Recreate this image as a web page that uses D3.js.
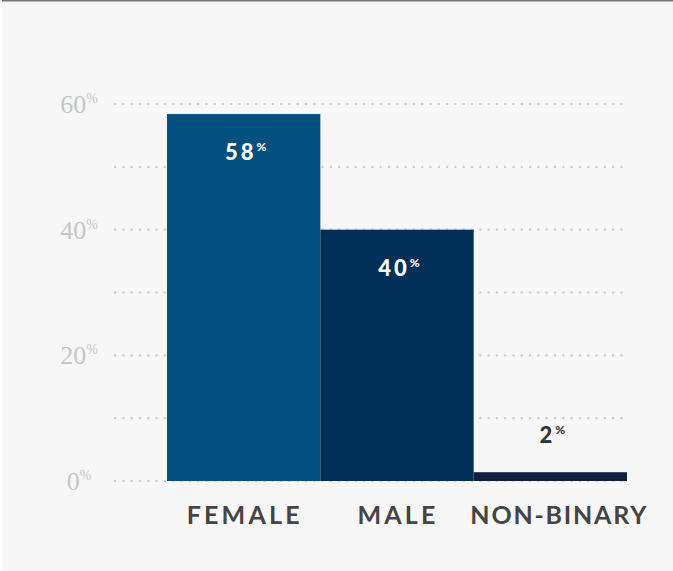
<!DOCTYPE html>
<html>
<head>
<meta charset="utf-8">
<script src="https://cdn.jsdelivr.net/npm/d3@7"></script>
<style>
  html, body { margin: 0; padding: 0; background: #ffffff; }
  svg { display: block; }
</style>
</head>
<body>
<svg id="chart" width="673" height="571"></svg>
<script>
// ---- data ----
const categories = ["FEMALE", "MALE", "NON-BINARY"];
const values = [58.4, 40, 1.4];
const valueLabels = ["58", "40", "2"];
const barColors = ["#02507f", "#002f57", "#121f43"];
const labelColors = ["#ffffff", "#ffffff", "#333333"];
const yTicks = [0, 20, 40, 60];
const gridTicks = [0, 10, 20, 30, 40, 50, 60];

const svg = d3.select("#chart");
const W = 673, H = 571;

// background panel
svg.append("rect").attr("x", 2).attr("y", 0).attr("width", W - 2).attr("height", H).attr("fill", "#f7f7f7");
svg.append("rect").attr("x", 2).attr("y", 0).attr("width", W - 2).attr("height", 1.5).attr("fill", "#777777");

const y = d3.scaleLinear().domain([0, 60]).range([481, 104]);
const x = d3.scaleBand().domain(categories).range([167, 627]).padding(0);

// dotted gridlines
svg.append("g").selectAll("line").data(gridTicks).join("line")
  .attr("x1", 114).attr("x2", 628)
  .attr("y1", d => y(d)).attr("y2", d => y(d))
  .attr("stroke", "#cfcfcf").attr("stroke-width", 2.2)
  .attr("stroke-dasharray", "2.2,6.1");

// y tick labels
const yl = svg.append("g").selectAll("text").data(yTicks).join("text")
  .attr("x", 79).attr("y", d => y(d) + 9)
  .attr("text-anchor", "middle")
  .attr("font-family", "'Liberation Serif', serif")
  .attr("font-size", 26)
  .attr("fill", "#c6c6c6");
yl.append("tspan").text(d => d);
yl.append("tspan").text("%").attr("font-size", 14).attr("dy", -10);

// bars
svg.append("g").selectAll("rect").data(categories).join("rect")
  .attr("x", d => x(d))
  .attr("width", x.bandwidth())
  .attr("y", (d, i) => y(values[i]))
  .attr("height", (d, i) => y(0) - y(values[i]))
  .attr("fill", (d, i) => barColors[i]);

// value labels
const vl = svg.append("g").selectAll("text").data(categories).join("text")
  .attr("x", d => x(d) + x.bandwidth() / 2 + 2)
  .attr("y", (d, i) => i < 2 ? y(values[i]) + 46 : y(values[i]) - 29)
  .attr("text-anchor", "middle")
  .attr("font-family", "Lato, sans-serif")
  .attr("font-weight", 900)
  .attr("font-size", 22)
  .attr("letter-spacing", 3)
  .attr("fill", (d, i) => labelColors[i]);
vl.append("tspan").text((d, i) => valueLabels[i]);
vl.append("tspan").text("%").attr("font-size", 12).attr("dy", -9).attr("letter-spacing", 0);

// category labels
svg.append("g").selectAll("text").data(categories).join("text")
  .attr("x", (d, i) => x(d) + x.bandwidth() / 2 + (i === 2 ? 9 : 1))
  .attr("y", 524)
  .attr("text-anchor", "middle")
  .attr("font-family", "Lato, sans-serif")
  .attr("font-weight", 700)
  .attr("font-size", 25)
  .attr("letter-spacing", (d, i) => i === 2 ? 1.8 : 3.2)
  .attr("fill", "#444444")
  .text(d => d);
</script>
</body>
</html>
